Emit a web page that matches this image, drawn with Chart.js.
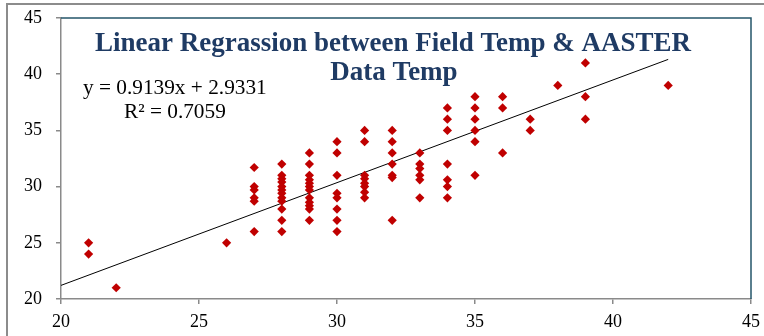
<!DOCTYPE html>
<html>
<head>
<meta charset="utf-8">
<script src="https://cdn.jsdelivr.net/npm/chart.js@4/dist/chart.umd.min.js"></script>
<style>
html,body{margin:0;padding:0;background:#fff;}
#wrap{position:relative;width:764px;height:336px;}
canvas{display:block;}
</style>
</head>
<body>
<div id="wrap"><canvas id="c" width="764" height="336"></canvas></div>
<script>
// Field temperature (x) and AASTER temperature (y), grouped by field temperature
const fieldTemps = [21, 22, 26, 27, 28, 29, 30, 31, 32, 33, 34, 35, 36, 37, 38, 39, 42];
const asterTemps = [
  [25, 24],
  [21],
  [25],
  [31.7, 30, 29.7, 29, 28.7, 26],
  [32, 31, 30.7, 30.4, 30, 29.7, 29.4, 29, 28.7, 28, 27, 26],
  [33, 32, 31, 30.6, 30.3, 30, 29.7, 29, 28.6, 28.3, 28, 27],
  [34, 33, 31, 29.4, 29, 28, 27, 26],
  [35, 34, 31, 30.7, 30.3, 30, 29.5, 29],
  [35, 34, 33, 32, 31, 30.8, 27],
  [33, 32, 31.6, 31, 30.6, 29],
  [37, 36, 35, 32, 30.6, 30, 29],
  [38, 37, 36, 35, 34, 31],
  [38, 37, 33],
  [36, 35],
  [39],
  [41, 38, 36],
  [39]
];
const xTicks = [20, 25, 30, 35, 40, 45];
const yTicks = [20, 25, 30, 35, 40, 45];
const trendSlope = 0.9139;
const trendIntercept = 2.9331;
const trendRange = [20, 42];
const titleLines = ['Linear Regrassion between Field Temp & AASTER', 'Data Temp'];
const eqLines = ['y = 0.9139x + 2.9331', 'R² = 0.7059'];

const points = [];
fieldTemps.forEach((x, i) => asterTemps[i].forEach(y => points.push({x, y})));
const trend = trendRange.map(x => ({x, y: trendSlope * x + trendIntercept}));

const decor = {
  id: 'decor',
  beforeDraw(chart) {
    const ctx = chart.ctx;
    ctx.save();
    ctx.fillStyle = '#fff';
    ctx.fillRect(0, 0, chart.width, chart.height);
    ctx.strokeStyle = '#8c8c8c';
    ctx.lineWidth = 2;
    ctx.beginPath();
    ctx.moveTo(7, 336); ctx.lineTo(7, 4); ctx.lineTo(764, 4);
    ctx.stroke();
    ctx.restore();
  },
  afterDatasetsDraw(chart) {
    const ctx = chart.ctx;
    const a = chart.chartArea;
    ctx.save();
    ctx.strokeStyle = '#24566a';
    ctx.lineWidth = 1.5;
    ctx.beginPath();
    ctx.moveTo(a.left, a.top); ctx.lineTo(a.right, a.top); ctx.lineTo(a.right, a.bottom);
    ctx.stroke();
    ctx.fillStyle = '#1f3b64';
    ctx.font = 'bold 27px "Liberation Serif", "Times New Roman", serif';
    ctx.textAlign = 'center';
    ctx.textBaseline = 'middle';
    ctx.fillText(titleLines[0], 393, 44);
    ctx.fillText(titleLines[1], 394, 73);
    ctx.fillStyle = '#000';
    ctx.font = '21.3px "Liberation Serif", "Times New Roman", serif';
    ctx.textAlign = 'left';
    ctx.fillText(eqLines[0], 83, 88);
    ctx.fillText(eqLines[1], 124, 112);
    ctx.restore();
  }
};

new Chart(document.getElementById('c'), {
  type: 'scatter',
  data: {
    datasets: [
      {
        data: points,
        pointStyle: 'rectRot',
        pointRadius: 4.6,
        pointBackgroundColor: '#c00000',
        pointBorderWidth: 0,
        pointBorderColor: '#c00000'
      },
      {
        type: 'line',
        data: trend,
        borderColor: '#000',
        borderWidth: 1,
        pointRadius: 0,
        fill: false
      }
    ]
  },
  options: {
    responsive: false,
    animation: false,
    events: [],
    layout: {padding: {left: 0, top: 18, right: 13, bottom: 0}},
    plugins: {legend: {display: false}, tooltip: {enabled: false}, title: {display: false}},
    scales: {
      x: {
        type: 'linear', min: 20, max: 45,
        afterBuildTicks(s) { s.ticks = xTicks.map(v => ({value: v})); },
        afterFit(s) { s.height = 37; s.paddingLeft = 0; s.paddingRight = 0; },
        border: {display: true, color: '#8a8a8a', width: 1.5},
        grid: {drawOnChartArea: false, drawTicks: true, tickLength: 5, color: '#8a8a8a', lineWidth: 1.5},
        ticks: {color: '#000', padding: 7, maxRotation: 0,
          font: {family: '"Liberation Serif", "Times New Roman", serif', size: 18}}
      },
      y: {
        type: 'linear', min: 20, max: 45,
        afterBuildTicks(s) { s.ticks = yTicks.map(v => ({value: v})); },
        afterFit(s) { s.width = 61; s.paddingTop = 0; s.paddingBottom = 0; },
        border: {display: true, color: '#8a8a8a', width: 1.5},
        grid: {drawOnChartArea: false, drawTicks: true, tickLength: 5, color: '#8a8a8a', lineWidth: 1.5},
        ticks: {color: '#000', padding: 14,
          font: {family: '"Liberation Serif", "Times New Roman", serif', size: 18}}
      }
    }
  },
  plugins: [decor]
});
</script>
</body>
</html>
